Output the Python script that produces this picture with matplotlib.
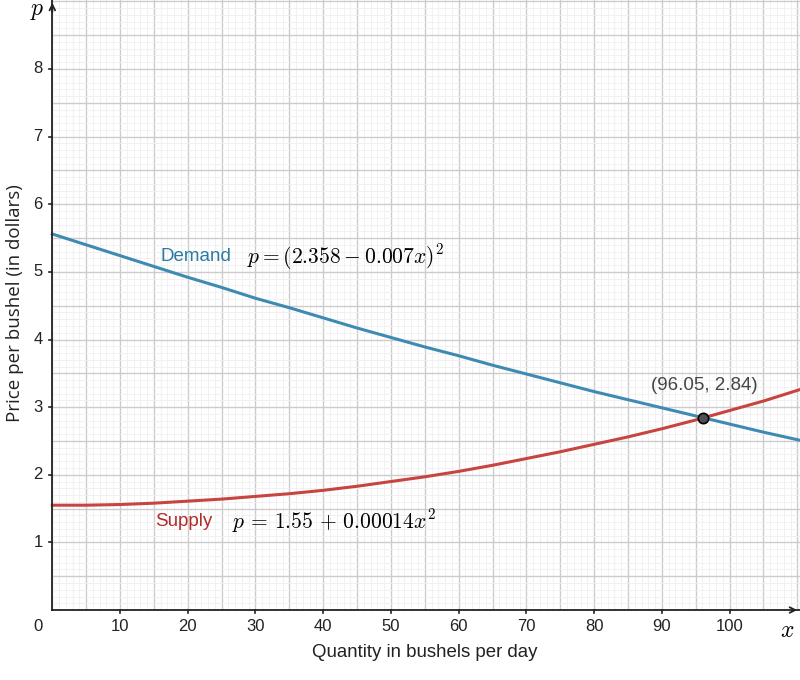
import matplotlib.pyplot as plt
from matplotlib.ticker import MultipleLocator

plt.rcParams['font.family'] = ['Liberation Sans', 'DejaVu Sans']
plt.rcParams['mathtext.fontset'] = 'cm'

# values every 5 bushels (last point at the right edge)
qty = [0, 5, 10, 15, 20, 25, 30, 35, 40, 45, 50, 55, 60, 65, 70, 75, 80,
       85, 90, 95, 100, 105, 110.4]
demand = [5.56, 5.40, 5.24, 5.08, 4.92, 4.77, 4.61, 4.47, 4.32, 4.17, 4.03,
          3.89, 3.76, 3.62, 3.49, 3.36, 3.23, 3.11, 2.99, 2.87, 2.75, 2.63, 2.51]
supply = [1.55, 1.55, 1.56, 1.58, 1.61, 1.64, 1.68, 1.72, 1.77, 1.83, 1.90,
          1.97, 2.05, 2.14, 2.24, 2.34, 2.45, 2.56, 2.68, 2.81, 2.95, 3.09, 3.26]
eq_x, eq_y = 96.05, 2.84

xticks = [10, 20, 30, 40, 50, 60, 70, 80, 90, 100]
yticks = [1, 2, 3, 4, 5, 6, 7, 8]

blue = '#3e8bb2'
red = '#c74440'

fig = plt.figure(figsize=(8, 6.8), dpi=100)
ax = fig.add_axes([0.0654, 0.1029, 1 - 0.0654, 1 - 0.1029])
ax.set_xlim(0, 110.4)
ax.set_ylim(0, 9.02)

ax.xaxis.set_major_locator(MultipleLocator(5))
ax.xaxis.set_minor_locator(MultipleLocator(1))
ax.yaxis.set_major_locator(MultipleLocator(0.5))
ax.yaxis.set_minor_locator(MultipleLocator(0.1))
ax.grid(which='major', color='#cccccc', lw=1.0)
ax.grid(which='minor', color='#efefef', lw=0.6)
ax.set_axisbelow(True)
ax.tick_params(which='both', length=0, labelbottom=False, labelleft=False)

for s in ['top', 'right']:
    ax.spines[s].set_visible(False)
for s in ['left', 'bottom']:
    ax.spines[s].set_color('#222222')
    ax.spines[s].set_linewidth(1.3)

# own tick marks + labels
for t in xticks:
    ax.plot([t, t], [0, -0.05], color='#222222', lw=1.2, clip_on=False)
    ax.text(t, -0.13, str(t), ha='center', va='top', fontsize=12, color='#222222')
for t in yticks:
    ax.plot([0, -0.45], [t, t], color='#222222', lw=1.2, clip_on=False)
    ax.text(-1.4, t, str(t), ha='right', va='center', fontsize=12, color='#222222')
ax.text(-1.4, -0.13, '0', ha='right', va='top', fontsize=12, color='#222222')

# axis arrows
ax.annotate('', xy=(0, 9.02), xytext=(0, 8.8), arrowprops=dict(arrowstyle='->', lw=1.3, color='#222222'),
            annotation_clip=False)
ax.annotate('', xy=(110.4, 0), xytext=(109, 0), arrowprops=dict(arrowstyle='->', lw=1.3, color='#222222'),
            annotation_clip=False)
ax.text(-1.2, 8.85, '$p$', ha='right', va='center', fontsize=17)
ax.text(108.5, -0.15, '$x$', ha='center', va='top', fontsize=17)

ax.plot(qty, demand, color=blue, lw=2.2, clip_on=False)
ax.plot(qty, supply, color=red, lw=2.2, clip_on=False)
ax.scatter([eq_x], [eq_y], s=55, color='#505050', edgecolors='black', linewidths=1.2, zorder=5)

ax.text(16.0, 5.22, 'Demand', color='#2a7aa3', fontsize=13.5, ha='left', va='center')
ax.text(28.8, 5.22, r'$p=(2.358-0.007x)^2$', fontsize=15.5, ha='left', va='center')
ax.text(15.2, 1.31, 'Supply', color='#b22a2a', fontsize=13.5, ha='left', va='center')
ax.text(26.5, 1.31, r'$p\,=\,1.55\,+\,0.00014x^2$', fontsize=15.5, ha='left', va='center')
ax.text(96.3, 3.32, '(96.05, 2.84)', color='#444444', fontsize=13.5, ha='center', va='center')

fig.text(0.531, 0.041, 'Quantity in bushels per day', ha='center', va='center', fontsize=13.4, color='#222222')
fig.text(0.019, 0.555, 'Price per bushel (in dollars)', ha='center', va='center', rotation=90,
         fontsize=13.5, color='#222222', family=['Open Sans', 'DejaVu Sans'])

fig.savefig('out.png', dpi=100)
